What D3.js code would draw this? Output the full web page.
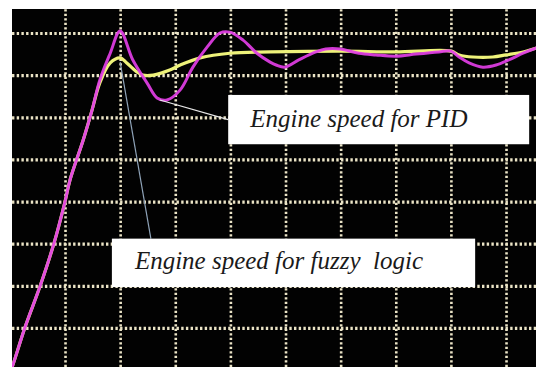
<!DOCTYPE html>
<html>
<head>
<meta charset="utf-8">
<script src="https://cdn.jsdelivr.net/npm/d3@7"></script>
<style>
  body { margin: 0; background: #fff; }
  svg { display: block; }
</style>
</head>
<body>
<svg width="536" height="367"></svg>
<script>
// scope trace in grid divisions
const pidTime = [0, 0.04, 0.27, 0.55, 0.8, 1.0, 1.09, 1.33, 1.49, 1.63, 1.82, 2.0, 2.23, 2.49, 2.67, 2.85,
  3.09, 3.32, 3.58, 3.81, 3.99, 4.23, 4.48, 4.72, 4.83, 4.99, 5.24, 5.55, 5.73, 5.99, 6.33, 6.64,
  7.0, 7.37, 7.78, 8.0, 8.15, 8.33, 8.58, 8.82, 9.05, 9.31, 9.54, 9.7];
const pidSpeed = [-0.05, 0.07, 1.0, 2.0, 3.01, 4.0, 4.51, 5.46, 6.17, 6.88, 7.52, 8.05, 7.36, 6.81, 6.46, 6.41,
  6.65, 7.19, 7.67, 8.0, 8.02, 7.83, 7.52, 7.31, 7.24, 7.19, 7.36, 7.55, 7.62, 7.62, 7.52, 7.48,
  7.45, 7.5, 7.55, 7.57, 7.43, 7.29, 7.19, 7.24, 7.36, 7.52, 7.64, 7.7];

const fuzzyTime = [0, 0.04, 0.27, 0.55, 0.8, 1.0, 1.09, 1.33, 1.49, 1.63, 1.82, 2.0, 2.12, 2.31, 2.41, 2.6,
  2.9, 3.09, 3.45, 3.99, 4.72, 5.99, 7.0, 8.0, 8.15, 8.4, 8.76, 9.0, 9.31, 9.54, 9.7];
const fuzzySpeed = [-0.05, 0.07, 1.0, 2.0, 3.01, 4.0, 4.51, 5.46, 6.17, 6.81, 7.29, 7.41, 7.29, 7.07, 7.0, 7.0,
  7.12, 7.24, 7.41, 7.52, 7.55, 7.57, 7.55, 7.57, 7.48, 7.43, 7.43, 7.48, 7.55, 7.64, 7.7];

const xTicks = [1, 2, 3, 4, 5, 6, 7, 8, 9];
const yTicks = [1, 2, 3, 4, 5, 6, 7, 8];

const labelText = ['Engine speed for PID', 'Engine speed for fuzzy\u00a0 logic'];
const labelTip = [[2.72, 6.41], [2.0, 7.31]];   // point on the trace
const labelBox = [[3.96, 6.53, 9.42, 5.36], [1.85, 3.12, 8.44, 1.97]]; // x0, yTop, x1, yBottom

const svg = d3.select('svg');
const frame = { left: 12, top: 9, right: 536, bottom: 367 };

const x = d3.scaleLinear().domain([0, 10]).range([9.9, 561.15]);
const y = d3.scaleLinear().domain([0, 8]).range([370.1, 33]);

svg.append('defs').append('clipPath').attr('id', 'plot')
  .append('rect')
  .attr('x', frame.left).attr('y', frame.top)
  .attr('width', frame.right - frame.left).attr('height', frame.bottom - frame.top);

svg.append('rect')
  .attr('x', frame.left).attr('y', frame.top)
  .attr('width', frame.right - frame.left).attr('height', frame.bottom - frame.top)
  .attr('fill', '#020202');

const g = svg.append('g').attr('clip-path', 'url(#plot)');

// dotted graticule
const xGrid = g.append('g')
  .attr('transform', `translate(0,${frame.bottom})`)
  .call(d3.axisBottom(x).tickValues(xTicks).tickSize(-(frame.bottom - frame.top)).tickFormat(''));
xGrid.select('.domain').remove();
xGrid.selectAll('.tick line')
  .attr('stroke', '#ebe4c6')
  .attr('stroke-width', 2.6)
  .attr('stroke-dasharray', '2.2,2.3');

const yGrid = g.append('g')
  .attr('transform', `translate(${frame.left},0)`)
  .call(d3.axisLeft(y).tickValues(yTicks).tickSize(-(frame.right - frame.left)).tickFormat(''));
yGrid.select('.domain').remove();
yGrid.selectAll('.tick line')
  .attr('stroke', '#ebe4c6')
  .attr('stroke-width', 3.2)
  .attr('stroke-dasharray', '2.4,2.3');

const line = d3.line()
  .x(d => x(d[0]))
  .y(d => y(d[1]))
  .curve(d3.curveCatmullRom.alpha(0.5));

const fuzzy = d3.zip(fuzzyTime, fuzzySpeed);
const pid = d3.zip(pidTime, pidSpeed);

g.append('path')
  .datum(fuzzy)
  .attr('d', line)
  .attr('fill', 'none')
  .attr('stroke', '#eef27a')
  .attr('stroke-width', 3.2);

g.append('path')
  .datum(pid)
  .attr('d', line)
  .attr('fill', 'none')
  .attr('stroke', '#e23ee6')
  .attr('stroke-width', 3)
  .attr('stroke-opacity', 0.92);

// callouts
const lineColor = ['#e8e8e8', '#8fa3b8'];
labelText.forEach((t, i) => {
  const b = labelBox[i];
  const tip = labelTip[i];
  const ax = i === 0 ? x(b[0]) : x(b[0]) + 39;
  const ay = i === 0 ? y((b[1] + b[3]) / 2) : y(b[1]);
  svg.append('line')
    .attr('x1', x(tip[0])).attr('y1', y(tip[1]))
    .attr('x2', ax).attr('y2', ay)
    .attr('stroke', lineColor[i])
    .attr('stroke-width', 1.2);
  svg.append('rect')
    .attr('x', x(b[0])).attr('y', y(b[1]))
    .attr('width', x(b[2]) - x(b[0])).attr('height', y(b[3]) - y(b[1]))
    .attr('fill', '#fff');
  svg.append('text')
    .attr('x', x(b[0]) + (i === 0 ? 22 : 23))
    .attr('y', y(b[3]) - (i === 0 ? 17 : 18))
    .attr('font-family', 'Liberation Serif')
    .attr('font-style', 'italic')
    .attr('font-size', 25)
    .attr('fill', '#1a1a1a')
    .text(t);
});
</script>
</body>
</html>
